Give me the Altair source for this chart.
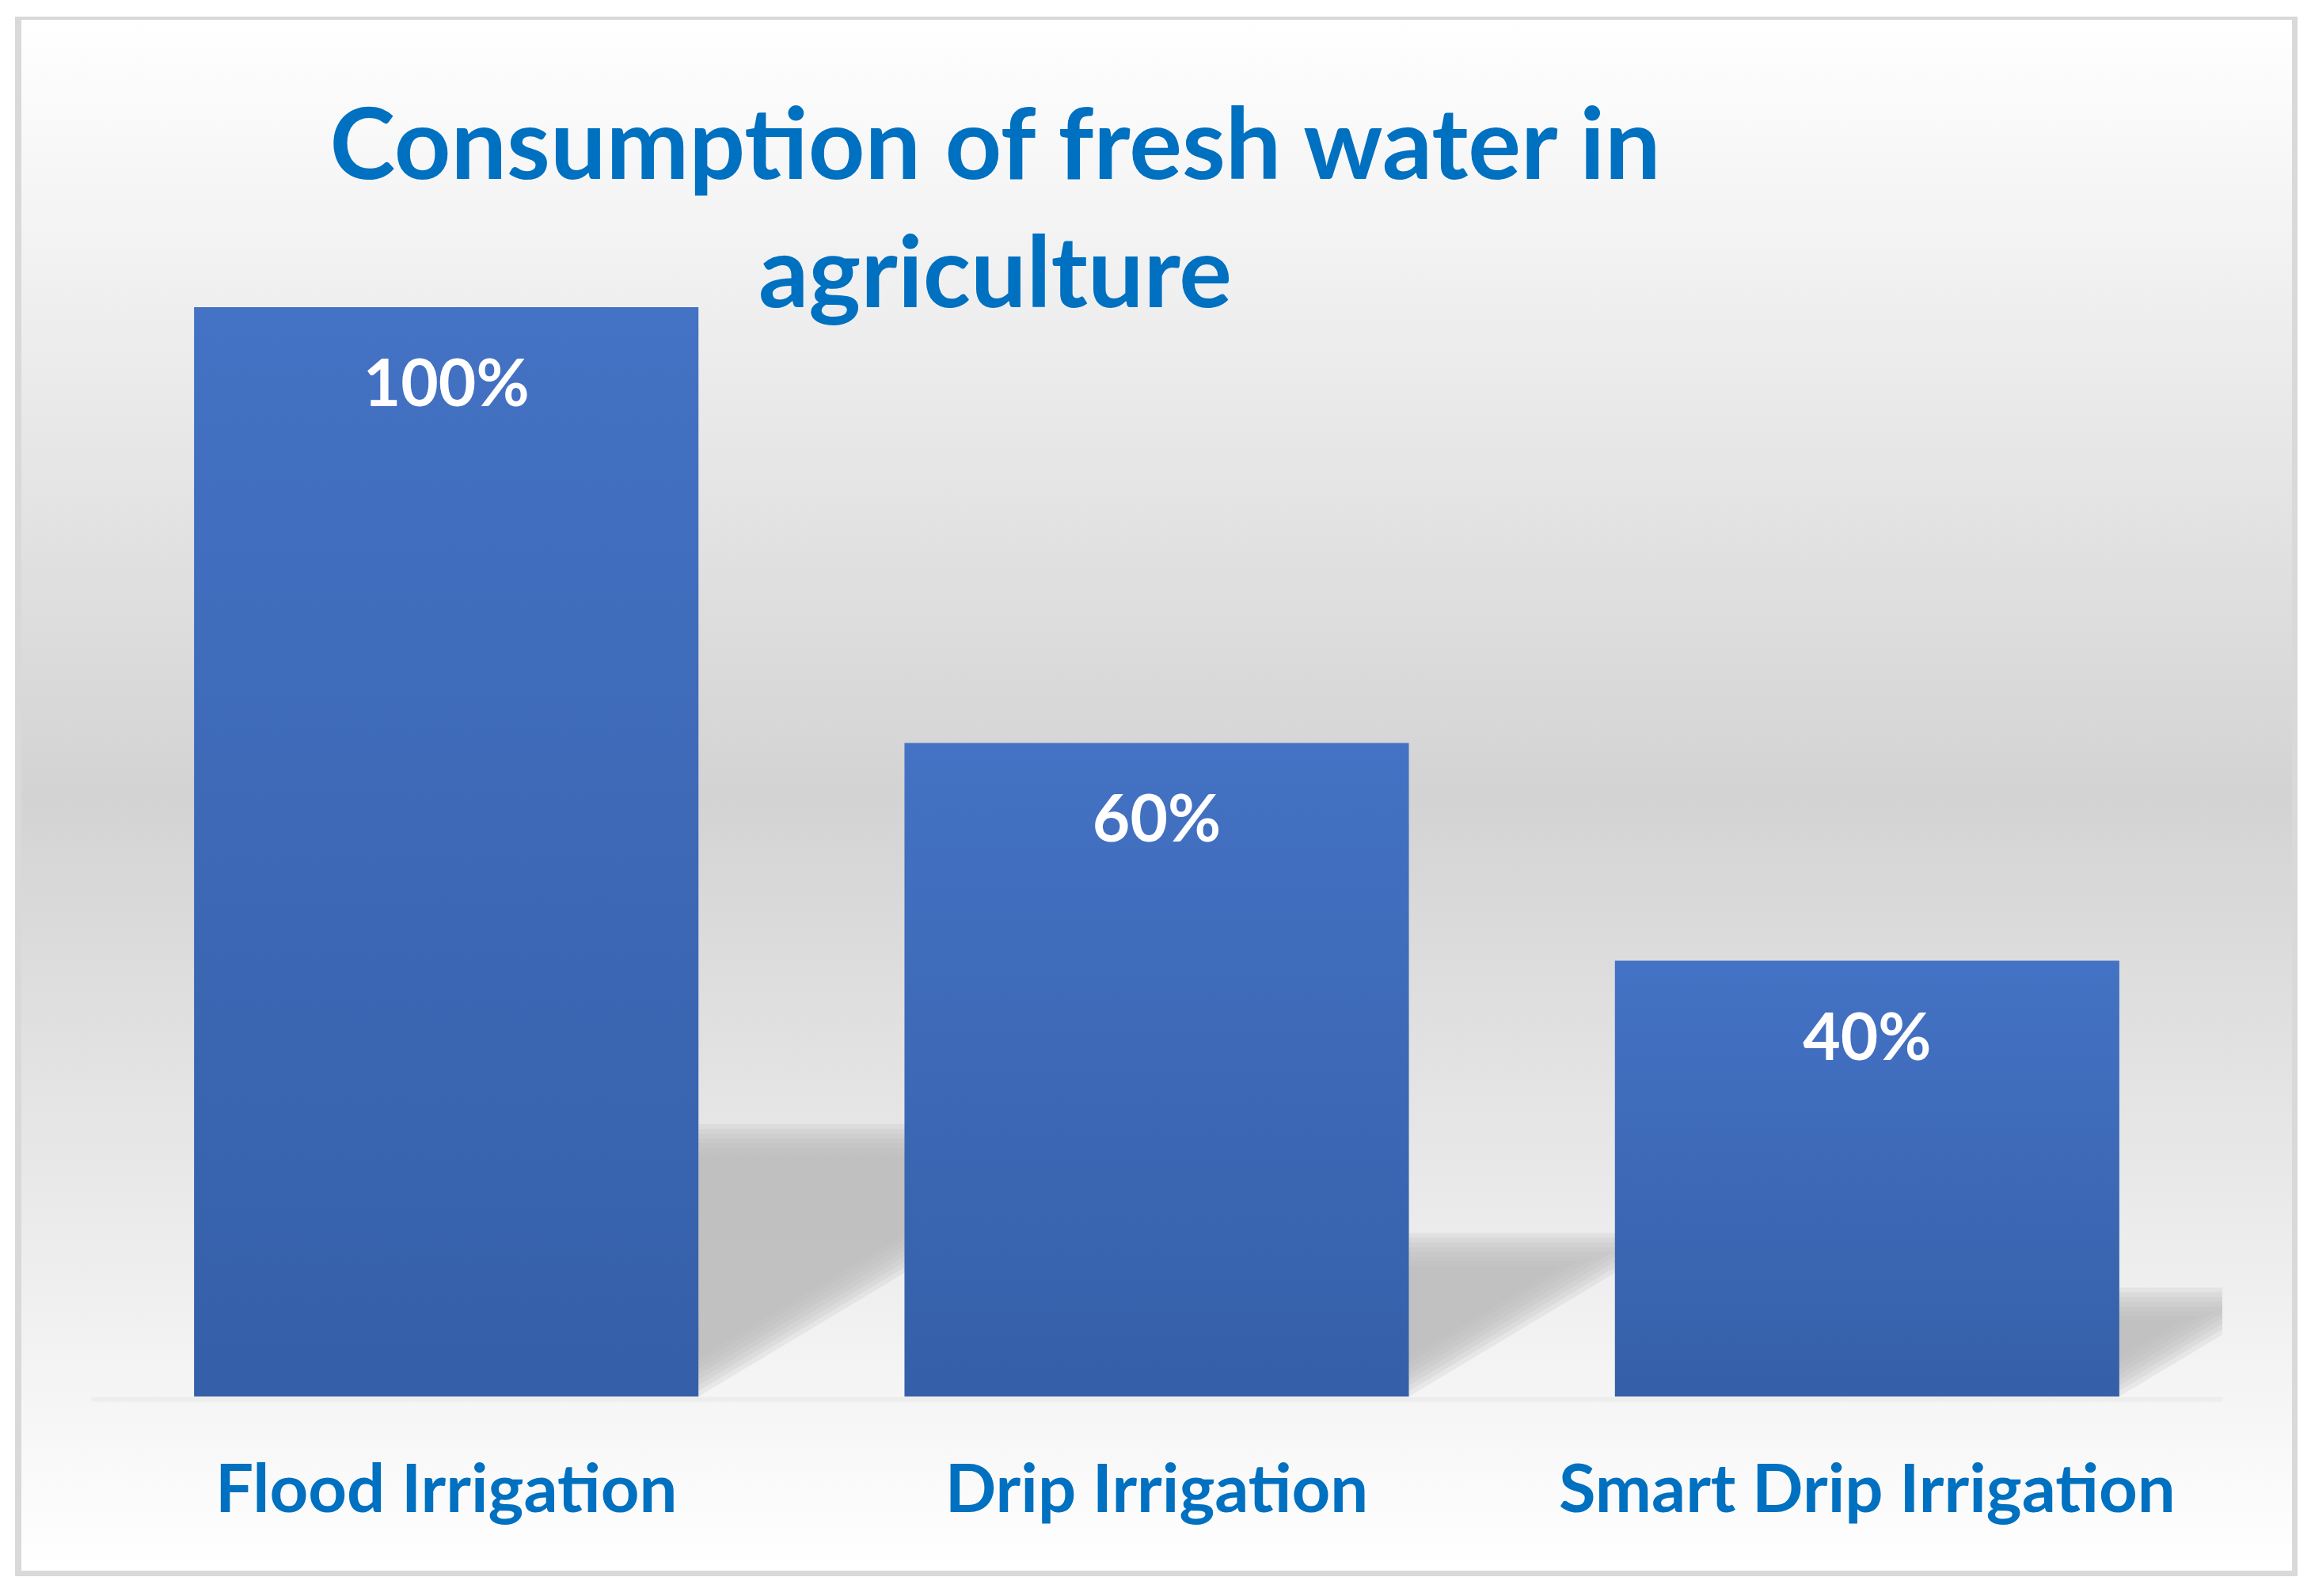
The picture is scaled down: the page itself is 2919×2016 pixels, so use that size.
import math
import altair as alt
import pandas as pd

# ---------------- data ----------------
categories = ["Flood Irrigation", "Drip Irrigation", "Smart Drip Irrigation"]
values = [100, 60, 40]
value_labels = ["100%", "60%", "40%"]
title_lines = ["Consumption of fresh water in", "agriculture"]

# ---------------- layout ----------------
W, H = 2692, 1376          # plot area
Y_MAX = 100
PX_Y = H / Y_MAX           # px per value unit
PX_X = W / 3               # px per category step

BLUE_TEXT = "#0070C0"
FONT = "Lato"

df = pd.DataFrame({"category": categories, "value": values, "label": value_labels})

# shadow geometry (perspective shadow to the right of each bar, blurred by insetting layers)
SHADOW_RATIO = 0.25
SLOPE = 0.6
K_LAYERS = 8
STEP_PX = 6
rows = []
for i, v in enumerate(values):
    xr = i + 0.855
    s_px = SHADOW_RATIO * v * PX_Y
    for k in range(K_LAYERS):
        sk = s_px - k * STEP_PX
        ck = k * STEP_PX * math.sqrt(1 + SLOPE ** 2)
        if sk <= ck:
            continue
        x_end = xr + (sk - ck) / SLOPE / PX_X
        gid = f"g{i}_{k}"
        rows.append({"gid": gid, "sx": xr, "sy": ck / PX_Y, "sy2": sk / PX_Y})
        if x_end <= 3:
            rows.append({"gid": gid, "sx": x_end, "sy": sk / PX_Y, "sy2": sk / PX_Y})
        else:
            yc = ck + SLOPE * (3 - xr) * PX_X
            rows.append({"gid": gid, "sx": 3.0, "sy": yc / PX_Y, "sy2": sk / PX_Y})
shadow_df = pd.DataFrame(rows)

one = pd.DataFrame({"k": [0]})

y_scale = alt.Scale(domain=[0, Y_MAX], nice=False, zero=True)

bar_grad = alt.LinearGradient(
    gradient="linear",
    stops=[alt.GradientStop(color="#4472C4", offset=0),
           alt.GradientStop(color="#355FA8", offset=1)],
    x1=0, x2=0, y1=0, y2=1,
)
bg_grad = alt.LinearGradient(
    gradient="linear",
    stops=[alt.GradientStop(color="#FFFFFF", offset=0),
           alt.GradientStop(color="#D3D3D3", offset=0.5),
           alt.GradientStop(color="#FFFFFF", offset=1)],
    x1=0, x2=0, y1=0, y2=1,
)

frame = alt.Chart(one).mark_rect(color="#D9D9D9").encode(
    x=alt.value(-96), x2=alt.value(2787), y=alt.value(-367), y2=alt.value(1603)
)
background = alt.Chart(one).mark_rect(fill=bg_grad).encode(
    x=alt.value(-88), x2=alt.value(2780), y=alt.value(-363), y2=alt.value(1596)
)

shadows = alt.Chart(shadow_df).mark_area(
    color="#BBBBBB", opacity=0.22, interpolate="linear", orient="vertical"
).encode(
    x=alt.X("sx:Q", scale=alt.Scale(domain=[0, 3], nice=False, zero=False), axis=None),
    y=alt.Y("sy:Q", scale=y_scale, axis=None),
    y2="sy2:Q",
    detail="gid:N",
)

x_band = alt.X(
    "category:N",
    sort=categories,
    scale=alt.Scale(paddingInner=0.29, paddingOuter=0.145),
    axis=alt.Axis(
        title=None, labelAngle=0, labelFont=FONT, labelFontSize=85,
        labelFontWeight="bold", labelColor=BLUE_TEXT, labelBaseline="alphabetic",
        labelPadding=142, ticks=False, tickSize=0, domainColor="#EDEDED",
        domainWidth=6, offset=3, zindex=1, labelLimit=3000, labelOverlap=False,
    ),
)

bars = alt.Chart(df).mark_bar(color=bar_grad).encode(
    x=x_band,
    y=alt.Y("value:Q", scale=y_scale, axis=None),
)

value_text = alt.Chart(df).mark_text(
    font=FONT, fontSize=82, fontWeight="bold", color="white",
    baseline="alphabetic", align="center", dy=125,
).encode(
    x=alt.X("category:N", sort=categories),
    y=alt.Y("value:Q", scale=y_scale),
    text="label:N",
)

title = alt.Chart(one).mark_text(
    font=FONT, fontSize=125, fontWeight="bold", color=BLUE_TEXT,
    baseline="alphabetic", align="center", lineHeight=162,
).encode(
    x=alt.value(1142), y=alt.value(-162), text=alt.value(title_lines)
)

chart = alt.layer(frame, background, shadows, bars, value_text, title).resolve_scale(
    x="independent"
).properties(
    width=W, height=H,
    autosize=alt.AutoSizeParams(type="none"),
    padding={"left": 107, "top": 380, "right": 104, "bottom": 244},
    background="white",
).configure_view(stroke=None)

chart.save("out.html", embed_options={"renderer": "svg", "actions": False})
